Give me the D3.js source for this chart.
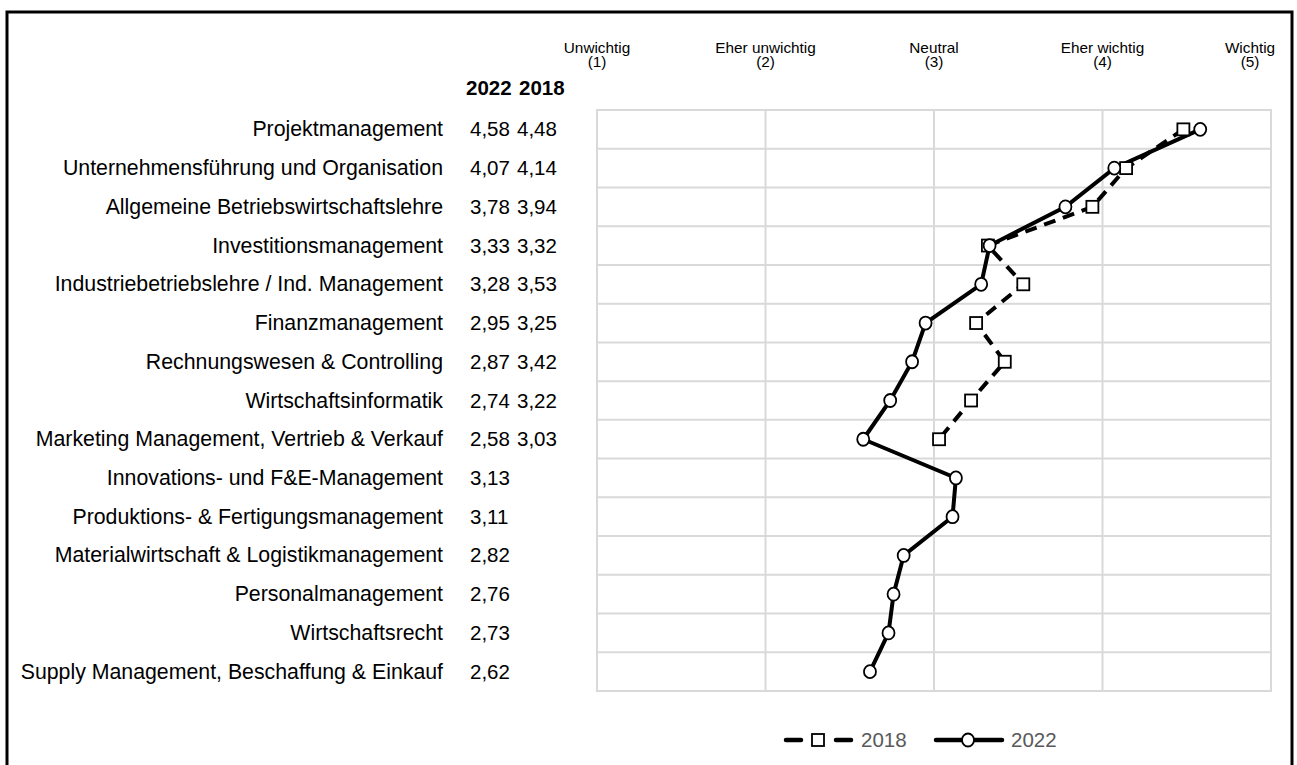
<!DOCTYPE html>
<html>
<head>
<meta charset="utf-8">
<script src="https://cdn.jsdelivr.net/npm/d3@7"></script>
<style>
  body { margin: 0; background: #fff; font-family: "Liberation Sans", Arial, sans-serif; }
  svg { display: block; }
</style>
</head>
<body>
<div id="chart"></div>
<script>
// data
var subjects = [
  "Projektmanagement",
  "Unternehmensführung und Organisation",
  "Allgemeine Betriebswirtschaftslehre",
  "Investitionsmanagement",
  "Industriebetriebslehre / Ind. Management",
  "Finanzmanagement",
  "Rechnungswesen & Controlling",
  "Wirtschaftsinformatik",
  "Marketing Management, Vertrieb & Verkauf",
  "Innovations- und F&E-Management",
  "Produktions- & Fertigungsmanagement",
  "Materialwirtschaft & Logistikmanagement",
  "Personalmanagement",
  "Wirtschaftsrecht",
  "Supply Management, Beschaffung & Einkauf"
];
var values2022 = [4.58, 4.07, 3.78, 3.33, 3.28, 2.95, 2.87, 2.74, 2.58, 3.13, 3.11, 2.82, 2.76, 2.73, 2.62];
var values2018 = [4.48, 4.14, 3.94, 3.32, 3.53, 3.25, 3.42, 3.22, 3.03];
var scaleTicks = [1, 2, 3, 4, 5];
var scaleLabels = ["Unwichtig", "Eher unwichtig", "Neutral", "Eher wichtig", "Wichtig"];

var width = 1297, height = 765;
var plot = { left: 597, right: 1271, top: 110, bottom: 691 };

var svg = d3.select("#chart").append("svg")
    .attr("width", width)
    .attr("height", height);

// outer frame
svg.append("rect")
    .attr("x", 7).attr("y", 12)
    .attr("width", 1285).attr("height", 800)
    .attr("fill", "none")
    .attr("stroke", "#000")
    .attr("stroke-width", 3);

var x = d3.scaleLinear().domain([1, 5]).range([plot.left, plot.right]);
var y = d3.scaleBand().domain(subjects).range([plot.top, plot.bottom]);
var yc = function(name) { return y(name) + y.bandwidth() / 2; };

// text helper, sx = horizontal stretch
function txt(g, px, py, s, size, anchor, sx) {
  return g.append("text")
    .attr("transform", "translate(" + px + "," + py + ") scale(" + (sx || 1) + ",1)")
    .attr("text-anchor", anchor || "start")
    .attr("font-size", size)
    .text(s);
}

// grid
var grid = svg.append("g").attr("stroke", "#d9d9d9").attr("stroke-width", 2).attr("fill", "none");
grid.append("rect")
    .attr("x", plot.left).attr("y", plot.top)
    .attr("width", plot.right - plot.left).attr("height", plot.bottom - plot.top);
grid.selectAll("line.v").data(scaleTicks.slice(1, -1)).enter().append("line")
    .attr("x1", function(d) { return x(d); }).attr("x2", function(d) { return x(d); })
    .attr("y1", plot.top).attr("y2", plot.bottom);
grid.selectAll("line.h").data(subjects.slice(1)).enter().append("line")
    .attr("x1", plot.left).attr("x2", plot.right)
    .attr("y1", function(d) { return y(d); }).attr("y2", function(d) { return y(d); });

// scale header
var head = svg.append("g").attr("fill", "#000");
scaleTicks.forEach(function(t, i) {
  var cx = Math.min(x(t), plot.right - 21);
  txt(head, cx, 53, scaleLabels[i], 14.2, "middle", 1.08);
  txt(head, cx, 67, "(" + t + ")", 14.2, "middle", 1.08);
});

// table on the left
var tbl = svg.append("g").attr("fill", "#000");
txt(tbl, 466, 95, "2022", 20.5, "start").attr("font-weight", "bold");
txt(tbl, 519, 95, "2018", 20.5, "start").attr("font-weight", "bold");
var fmt = function(v) { return v.toFixed(2).replace(".", ","); };
subjects.forEach(function(s, i) {
  var by = yc(s) + 7;
  txt(tbl, 443, by, s, 21.3, "end");
  txt(tbl, 470, by, fmt(values2022[i]), 20.5, "start");
  if (i < values2018.length) txt(tbl, 517, by, fmt(values2018[i]), 20.5, "start");
});

// lines
var line = d3.line()
    .x(function(d) { return x(d.v); })
    .y(function(d) { return yc(d.s); });
var pts2018 = values2018.map(function(v, i) { return { s: subjects[i], v: v }; });
var pts2022 = values2022.map(function(v, i) { return { s: subjects[i], v: v }; });

svg.append("path").datum(pts2018)
    .attr("d", line)
    .attr("fill", "none").attr("stroke", "#000")
    .attr("stroke-width", 4)
    .attr("stroke-dasharray", "12,8");
svg.append("path").datum(pts2022)
    .attr("d", line)
    .attr("fill", "none").attr("stroke", "#000")
    .attr("stroke-width", 4);

svg.selectAll("rect.m18").data(pts2018).enter().append("rect")
    .attr("x", function(d) { return x(d.v) - 6; })
    .attr("y", function(d) { return yc(d.s) - 6; })
    .attr("width", 12).attr("height", 12)
    .attr("fill", "#fff").attr("stroke", "#000").attr("stroke-width", 1.8);
svg.selectAll("ellipse.m22").data(pts2022).enter().append("ellipse")
    .attr("cx", function(d) { return x(d.v); })
    .attr("cy", function(d) { return yc(d.s); })
    .attr("rx", 6).attr("ry", 6.5)
    .attr("fill", "#fff").attr("stroke", "#000").attr("stroke-width", 1.8);

// legend
var lg = svg.append("g");
var ly = 740;
[[786, 801], [836, 851]].forEach(function(seg) {
  lg.append("line").attr("x1", seg[0]).attr("x2", seg[1]).attr("y1", ly).attr("y2", ly)
      .attr("stroke", "#000").attr("stroke-width", 4.5).attr("stroke-linecap", "round");
});
lg.append("rect").attr("x", 812).attr("y", ly - 6).attr("width", 12).attr("height", 12)
    .attr("fill", "#fff").attr("stroke", "#000").attr("stroke-width", 1.8);
txt(lg, 861, ly + 7, "2018", 20.5, "start").attr("fill", "#595959");
lg.append("line").attr("x1", 936).attr("x2", 1002).attr("y1", ly).attr("y2", ly)
    .attr("stroke", "#000").attr("stroke-width", 4.5).attr("stroke-linecap", "round");
lg.append("ellipse").attr("cx", 968).attr("cy", ly).attr("rx", 6).attr("ry", 6.5)
    .attr("fill", "#fff").attr("stroke", "#000").attr("stroke-width", 1.8);
txt(lg, 1011, ly + 7, "2022", 20.5, "start").attr("fill", "#595959");
</script>
</body>
</html>
